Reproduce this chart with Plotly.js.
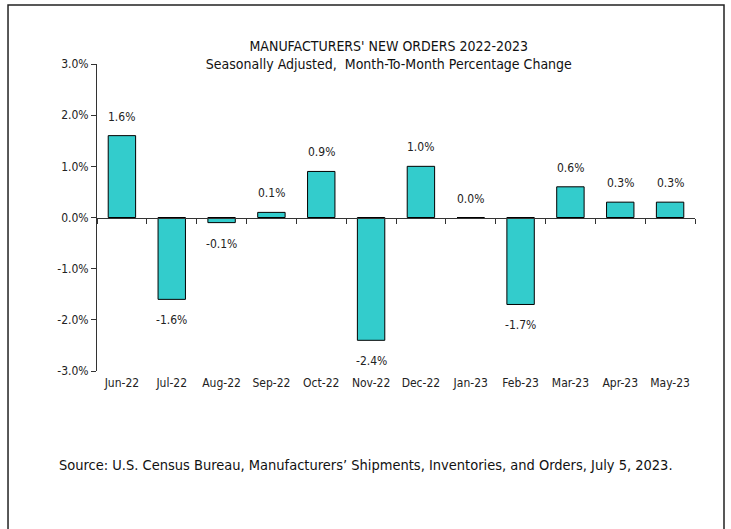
<!DOCTYPE html>
<html>
<head>
<meta charset="utf-8">
<script src="https://cdn.plot.ly/plotly-3.0.1.min.js"></script>
<style>html,body{margin:0;padding:0;background:#fff;}#chart{width:731px;height:529px;}</style>
</head>
<body>
<div id="chart"></div>
<script>
const months = ["Jun-22","Jul-22","Aug-22","Sep-22","Oct-22","Nov-22","Dec-22","Jan-23","Feb-23","Mar-23","Apr-23","May-23"];
const changes = [1.6, -1.6, -0.1, 0.1, 0.9, -2.4, 1.0, 0.0, -1.7, 0.6, 0.3, 0.3];
const yTicks = [-3, -2, -1, 0, 1, 2, 3];
const titleText = "MANUFACTURERS' NEW ORDERS 2022-2023<br>Seasonally Adjusted,\u00a0 Month-To-Month Percentage Change";
const sourceText = "Source: U.S. Census Bureau, Manufacturers\u2019 Shipments, Inventories, and Orders, July 5, 2023.";

const FONT = "Liberation Sans Narrow, DejaVu Sans Condensed, Liberation Sans, sans-serif";

const bars = {
  type: "bar", x: months, y: changes, xaxis: "x", yaxis: "y",
  width: 0.55,
  marker: {color: "#33CCCC", line: {color: "#000000", width: 1}},
  hoverinfo: "x+y", showlegend: false
};
const labelsTrace = {
  type: "scatter", x: months, y: months.map(() => 0), xaxis: "x2", yaxis: "y",
  mode: "markers", marker: {opacity: 0}, hoverinfo: "skip", showlegend: false
};

const annotations = months.map((m, i) => ({
  x: m, y: changes[i], xref: "x", yref: "y",
  text: changes[i].toFixed(1) + "%", showarrow: false,
  yshift: changes[i] >= 0 ? 19 : -21, yanchor: "middle",
  font: {family: FONT, size: 12, color: "#222"}
}));
annotations.push({
  xref: "paper", yref: "paper", x: 0.4498, y: -0.306, showarrow: false,
  text: sourceText, xanchor: "center", yanchor: "middle",
  font: {family: FONT, size: 14.5, color: "#111"}
});

const layout = {
  width: 731, height: 529,
  margin: {l: 97, r: 36, t: 64, b: 158, pad: 0},
  paper_bgcolor: "#fff", plot_bgcolor: "#fff",
  font: {family: FONT, size: 12, color: "#222"},
  title: {
    text: titleText, xref: "paper", x: 0.488, xanchor: "center",
    yref: "container", y: 1 - 51/529, yanchor: "middle",
    font: {family: FONT, size: 14, color: "#111"}
  },
  bargap: 0.45,
  xaxis: {
    type: "category", anchor: "free", position: 0.5,
    range: [-0.5, 11.5], showticklabels: false,
    showline: true, linecolor: "#333", linewidth: 1,
    ticks: "outside", tickson: "boundaries", ticklen: 5, tickcolor: "#333",
    showgrid: false, zeroline: false, fixedrange: true
  },
  xaxis2: {
    type: "category", overlaying: "x", anchor: "y", side: "bottom",
    range: [-0.5, 11.5], showline: false, ticks: "", showgrid: false, zeroline: false,
    tickfont: {family: FONT, size: 12, color: "#222"}, ticklabelstandoff: 3
  },
  yaxis: {
    range: [-3, 3], tickvals: yTicks, ticktext: yTicks.map(v => v.toFixed(1) + "%"),
    showline: true, linecolor: "#333", linewidth: 1,
    ticks: "outside", ticklen: 5, tickcolor: "#333",
    showgrid: false, zeroline: false,
    tickfont: {family: FONT, size: 12, color: "#222"}
  },
  shapes: [{
    type: "rect", xref: "paper", yref: "paper",
    x0: -0.1488, x1: 1.0485, y0: -0.6, y1: 1.1922,
    line: {color: "#222", width: 1.5}, fillcolor: "rgba(0,0,0,0)", layer: "below"
  }],
  annotations: annotations
};

Plotly.newPlot("chart", [bars, labelsTrace], layout, {displayModeBar: false, staticPlot: true});
</script>
</body>
</html>
